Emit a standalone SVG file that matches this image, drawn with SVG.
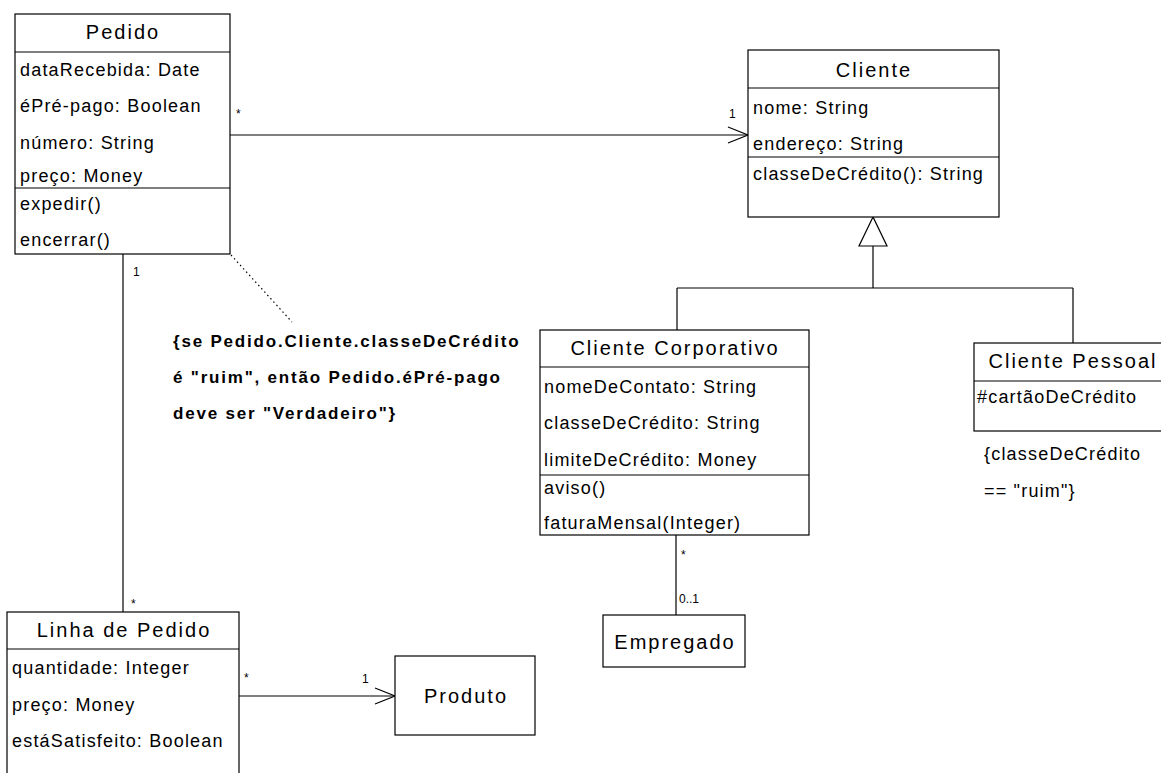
<svg xmlns="http://www.w3.org/2000/svg" width="1161" height="773" viewBox="0 0 1161 773">
<style>
.box{fill:#fff;stroke:#000;stroke-width:1.2}
.sep{stroke:#000;stroke-width:1.2}
.title{font-family:"Liberation Sans",Arial,sans-serif;font-size:20px;letter-spacing:2px;text-anchor:middle;fill:#000}
.attr{font-family:"Liberation Sans",Arial,sans-serif;font-size:18px;letter-spacing:1.2px;fill:#000}
.lbl{font-family:"Liberation Sans",Arial,sans-serif;font-size:12px;fill:#000}
.note{font-family:"Liberation Sans",Arial,sans-serif;font-size:17px;font-weight:bold;letter-spacing:1.8px;fill:#000}
.ln{stroke:#000;stroke-width:1.2;fill:none}
</style>
<rect width="1161" height="773" fill="#fff"/>
<g id="connectors">
<line class="ln" x1="230" y1="135" x2="748" y2="135"/>
<polyline class="ln" points="728,127 748,135 728,143"/>
<line class="ln" x1="123" y1="254" x2="123" y2="612"/>
<line class="ln" x1="239" y1="696" x2="395" y2="696"/>
<polyline class="ln" points="375,688 395,696 375,704"/>
<line class="ln" x1="873" y1="246" x2="873" y2="288"/>
<line class="ln" x1="677" y1="288" x2="1073" y2="288"/>
<line class="ln" x1="677" y1="288" x2="677" y2="330"/>
<line class="ln" x1="1073" y1="288" x2="1073" y2="343"/>
<polygon class="ln" points="873,217 859,246 887,246" style="fill:#fff"/>
<line class="ln" x1="676" y1="535" x2="676" y2="615"/>
<line class="ln" x1="231" y1="255" x2="292" y2="322" stroke-dasharray="1.5,3"/>
<text class="lbl" x="236" y="118">*</text>
<text class="lbl" x="729" y="118">1</text>
<text class="lbl" x="133" y="276">1</text>
<text class="lbl" x="131" y="608">*</text>
<text class="lbl" x="244" y="682">*</text>
<text class="lbl" x="362" y="683">1</text>
<text class="lbl" x="681" y="559">*</text>
<text class="lbl" x="679" y="603">0..1</text>
</g>
<g id="pedido">
<rect class="box" x="15" y="14" width="215" height="240"/>
<line class="sep" x1="15" y1="52" x2="230" y2="52"/>
<line class="sep" x1="15" y1="188" x2="230" y2="188"/>
<text class="title" x="123" y="39">Pedido</text>
<text class="attr" x="20" y="76">dataRecebida: Date</text>
<text class="attr" x="20" y="112">éPré-pago: Boolean</text>
<text class="attr" x="20" y="149">número: String</text>
<text class="attr" x="20" y="182">preço: Money</text>
<text class="attr" x="20" y="210">expedir()</text>
<text class="attr" x="20" y="246">encerrar()</text>
</g>
<g id="cliente">
<rect class="box" x="748" y="50" width="251" height="167"/>
<line class="sep" x1="748" y1="88" x2="999" y2="88"/>
<line class="sep" x1="748" y1="157" x2="999" y2="157"/>
<text class="title" x="874" y="77">Cliente</text>
<text class="attr" x="753" y="114">nome: String</text>
<text class="attr" x="753" y="150">endereço: String</text>
<text class="attr" x="753" y="180">classeDeCrédito(): String</text>
</g>
<g id="cliente-corporativo">
<rect class="box" x="540" y="330" width="269" height="205"/>
<line class="sep" x1="540" y1="367" x2="809" y2="367"/>
<line class="sep" x1="540" y1="475" x2="809" y2="475"/>
<text class="title" x="675" y="355">Cliente Corporativo</text>
<text class="attr" x="544" y="393">nomeDeContato: String</text>
<text class="attr" x="544" y="429">classeDeCrédito: String</text>
<text class="attr" x="544" y="466">limiteDeCrédito: Money</text>
<text class="attr" x="544" y="494">aviso()</text>
<text class="attr" x="544" y="529">faturaMensal(Integer)</text>
</g>
<g id="cliente-pessoal">
<rect class="box" x="974" y="343" width="195" height="88"/>
<line class="sep" x1="974" y1="381" x2="1169" y2="381"/>
<text class="title" x="1073" y="368">Cliente Pessoal</text>
<text class="attr" x="977" y="403">#cartãoDeCrédito</text>
</g>
<g id="nota-pessoal">
<text class="attr" x="984" y="460">{classeDeCrédito</text>
<text class="attr" x="984" y="497">== "ruim"}</text>
</g>
<g id="empregado">
<rect class="box" x="603" y="615" width="142" height="52"/>
<text class="title" x="675" y="649">Empregado</text>
</g>
<g id="linha-de-pedido">
<rect class="box" x="7" y="612" width="232" height="170"/>
<line class="sep" x1="7" y1="649" x2="239" y2="649"/>
<text class="title" x="124" y="637">Linha de Pedido</text>
<text class="attr" x="12" y="674">quantidade: Integer</text>
<text class="attr" x="12" y="711">preço: Money</text>
<text class="attr" x="12" y="747">estáSatisfeito: Boolean</text>
</g>
<g id="produto">
<rect class="box" x="395" y="656" width="140" height="79"/>
<text class="title" x="466" y="703">Produto</text>
</g>
<g id="restricao">
<text class="note" x="173" y="347">{se Pedido.Cliente.classeDeCrédito</text>
<text class="note" x="173" y="383">é "ruim", então Pedido.éPré-pago</text>
<text class="note" x="173" y="419">deve ser "Verdadeiro"}</text>
</g>
</svg>
